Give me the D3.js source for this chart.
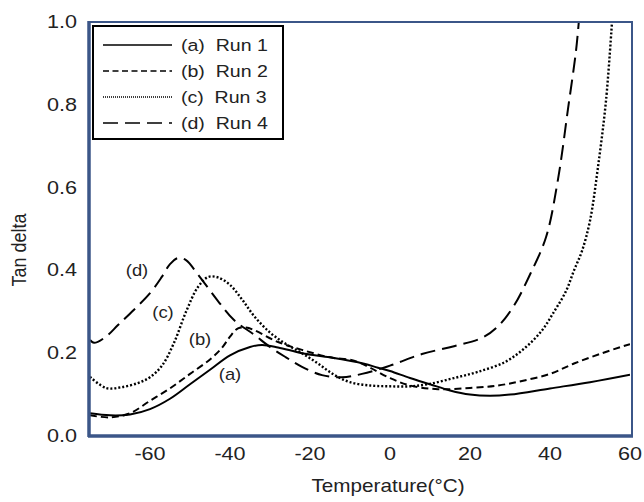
<html>
<head>
<script src="https://d3js.org/d3.v7.min.js"></script>
<style>
  body { margin: 0; background: #fff; }
  text { font-family: "Liberation Sans", Arial, sans-serif; fill: #222; }
</style>
</head>
<body>
<svg width="644" height="502"></svg>
<script>
// series
const run1T = [-75,-70,-65,-60,-55,-50,-45,-40,-35,-32,-28,-22,-15,-8,-3,0,5,10,15,20,25,30,40,50,60];
const run1V = [0.055,0.05,0.052,0.065,0.09,0.125,0.16,0.195,0.215,0.22,0.214,0.2,0.19,0.178,0.165,0.157,0.14,0.125,0.11,0.1,0.097,0.1,0.115,0.13,0.148];

const run2T = [-75,-70,-65,-60,-55,-50,-45,-42,-40,-38,-36,-34,-28,-22,-15,-9,-5,0,5,12,20,27,33,40,46,53,60];
const run2V = [0.05,0.045,0.055,0.085,0.115,0.15,0.185,0.213,0.24,0.26,0.262,0.256,0.227,0.208,0.19,0.182,0.165,0.14,0.122,0.113,0.116,0.122,0.133,0.15,0.175,0.2,0.222];

const run3T = [-75,-71,-67,-63,-60,-57,-54,-51,-48,-45.5,-43,-40,-37,-34,-30,-26,-22,-18,-14,-10,-5,0,5,10,16,22,29,34,38,41,44,46,48,50,52,54,55.5];
const run3V = [0.143,0.116,0.118,0.128,0.142,0.17,0.225,0.3,0.36,0.384,0.383,0.365,0.33,0.29,0.25,0.222,0.2,0.175,0.148,0.13,0.122,0.12,0.12,0.126,0.14,0.155,0.18,0.215,0.255,0.3,0.35,0.4,0.447,0.52,0.65,0.81,1.0];

const run4T = [-75,-74,-71,-68,-64,-60,-57,-55,-53,-51,-48,-43,-39,-34,-30,-26,-22,-17,-12,-7,0,8,16,23,27,31,35,39,42,44.5,46.5,47.2];
const run4V = [0.232,0.225,0.24,0.268,0.305,0.345,0.385,0.415,0.43,0.425,0.39,0.326,0.28,0.245,0.215,0.19,0.167,0.147,0.142,0.15,0.17,0.198,0.217,0.237,0.265,0.315,0.39,0.48,0.62,0.79,0.93,1.0];

const legendNames = ['(a)  Run 1', '(b)  Run 2', '(c)  Run 3', '(d)  Run 4'];
const dashes = [null, '7,4', '2,2', '15,7'];

const tagText = ['(a)', '(b)', '(c)', '(d)'];
const tagT = [-40, -47.5, -56.75, -63.25];
const tagV = [0.15, 0.234, 0.30, 0.40];

const xTicks = [-60, -40, -20, 0, 20, 40, 60];
const yTicks = [0, 0.2, 0.4, 0.6, 0.8, 1.0];

const svg = d3.select('svg');
const x = d3.scaleLinear().domain([-75, 60]).range([90, 630]);
const y = d3.scaleLinear().domain([0, 1]).range([436, 22]);

svg.append('defs').append('clipPath').attr('id', 'plot')
  .append('rect').attr('x', 90).attr('y', 22).attr('width', 540).attr('height', 414);

const runs = [[run1T, run1V], [run2T, run2V], [run3T, run3V], [run4T, run4V]]
  .map(([t, v]) => t.map((d, i) => [d, v[i]]));

const line = d3.line().x(d => x(d[0])).y(d => y(d[1])).curve(d3.curveCatmullRom.alpha(0.5));

svg.append('g').attr('clip-path', 'url(#plot)')
  .selectAll('path').data(runs).join('path')
  .attr('d', line)
  .attr('fill', 'none')
  .attr('stroke', '#000')
  .attr('stroke-width', (d, i) => i == 2 ? 2.4 : 2)
  .attr('stroke-dasharray', (d, i) => dashes[i]);

// frame
const frame = '#3b5688';
svg.append('rect').attr('x', 89).attr('y', 22).attr('width', 543).attr('height', 414)
  .attr('fill', 'none').attr('stroke', frame).attr('stroke-width', 2);
svg.append('line').attr('x1', 89).attr('x2', 89).attr('y1', 21).attr('y2', 437)
  .attr('stroke', frame).attr('stroke-width', 3.5);
svg.append('line').attr('x1', 88).attr('x2', 633).attr('y1', 436).attr('y2', 436)
  .attr('stroke', frame).attr('stroke-width', 3.5);

// tick labels
svg.append('g').selectAll('text').data(xTicks).join('text')
  .attr('transform', d => `translate(${x(d)},460) scale(1.2,1)`)
  .attr('text-anchor', 'middle')
  .attr('font-size', 18)
  .text(d => d);

svg.append('g').selectAll('text').data(yTicks).join('text')
  .attr('transform', d => `translate(77,${y(d) + 6}) scale(1.2,1)`)
  .attr('text-anchor', 'end')
  .attr('font-size', 18)
  .text(d => d.toFixed(1));

svg.append('text')
  .attr('transform', 'translate(388,492) scale(1.15,1)')
  .attr('text-anchor', 'middle')
  .attr('font-size', 18)
  .text('Temperature(°C)');

svg.append('text')
  .attr('transform', 'translate(26,250) rotate(-90) scale(1,1.15)')
  .attr('text-anchor', 'middle')
  .attr('font-size', 18)
  .text('Tan delta');

// curve tags
svg.append('g').selectAll('text').data(tagText).join('text')
  .attr('transform', (d, i) => `translate(${x(tagT[i])},${y(tagV[i]) + 6}) scale(1.15,1)`)
  .attr('text-anchor', 'middle')
  .attr('font-size', 16)
  .text(d => d);

// legend
const lg = svg.append('g');
lg.append('rect').attr('x', 93).attr('y', 26).attr('width', 190).attr('height', 113)
  .attr('fill', '#fff').attr('stroke', '#000').attr('stroke-width', 2);
lg.selectAll('line').data(legendNames).join('line')
  .attr('x1', 103).attr('x2', 172)
  .attr('y1', (d, i) => 45 + 26 * i).attr('y2', (d, i) => 45 + 26 * i)
  .attr('stroke', '#000')
  .attr('stroke-width', (d, i) => i == 2 ? 1.3 : 1.6)
  .attr('stroke-dasharray', (d, i) => i == 2 ? '1,1' : (i == 1 ? '6,3.5' : dashes[i]));
lg.selectAll('text').data(legendNames).join('text')
  .attr('transform', (d, i) => `translate(181,${45 + 26 * i + 6}) scale(1.15,1)`)
  .attr('font-size', 17)
  .attr('xml:space', 'preserve')
  .style('white-space', 'pre')
  .text(d => d);
</script>
</body>
</html>
